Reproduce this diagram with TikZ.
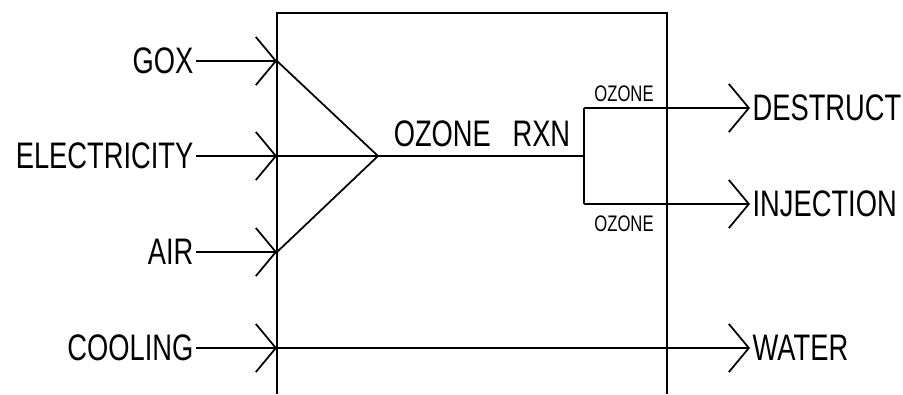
\documentclass[tikz,border=0pt]{standalone}
\usepackage{fontspec}
\newfontfamily\cadfont[FakeStretch=0.74]{Liberation Sans}
\usetikzlibrary{arrows.meta}
\tikzset{
    lbl/.style={font=\cadfont\fontsize{10.5}{12}\selectfont, inner sep=0.5pt},
    tag/.style={font=\cadfont\fontsize{6.4}{7}\selectfont, inner sep=1pt},
    flow/.style={-{Straight Barb[length=5.7pt,width=13.7pt]}},
}
\begin{document}
\begin{tikzpicture}[line width=0.5pt]
    \useasboundingbox (0,0) rectangle (9.03,3.94);
    \draw (2.77,0) -- (2.77,3.81) -- (6.67,3.81) -- (6.67,0);
    \node[lbl, anchor=east] (gox) at (1.96,3.33) {GOX};
    \node[lbl, anchor=east] (elec) at (1.96,2.38) {ELECTRICITY};
    \node[lbl, anchor=east] (air) at (1.96,1.42) {AIR};
    \node[lbl, anchor=east] (cool) at (1.96,0.46) {COOLING};
    \node[lbl, anchor=west] (destr) at (7.50,2.86) {DESTRUCT};
    \node[lbl, anchor=west] (inj) at (7.50,1.90) {INJECTION};
    \node[lbl, anchor=west] (water) at (7.50,0.46) {WATER};
    \coordinate (goxin) at (2.77,3.33);
    \coordinate (elecin) at (2.77,2.38);
    \coordinate (airin) at (2.77,1.42);
    \coordinate (coolin) at (2.77,0.46);
    \coordinate (mix) at (3.78,2.38);
    \coordinate (split) at (5.84,2.38);
    \coordinate (up) at (5.84,2.86);
    \coordinate (dn) at (5.84,1.90);
    \draw[flow] (gox.east) -- (goxin);
    \draw[flow] (elec.east) -- (elecin);
    \draw[flow] (air.east) -- (airin);
    \draw[flow] (cool.east) -- (coolin);
    \draw (goxin) -- (mix) -- (airin);
    \draw (elecin) -- (split);
    \draw (up) -- (dn);
    \draw[flow] (up) -- (destr.west);
    \draw[flow] (dn) -- (inj.west);
    \draw[flow] (coolin) -- (water.west);
    \node[lbl, anchor=south] (rxn) at (4.82,2.45) {OZONE\hspace{4pt} RXN};
    \node[tag, anchor=south east] (oztop) at (6.58,2.88) {OZONE};
    \node[tag, anchor=north east] (ozbot) at (6.58,1.825) {OZONE};
\end{tikzpicture}
\end{document}
